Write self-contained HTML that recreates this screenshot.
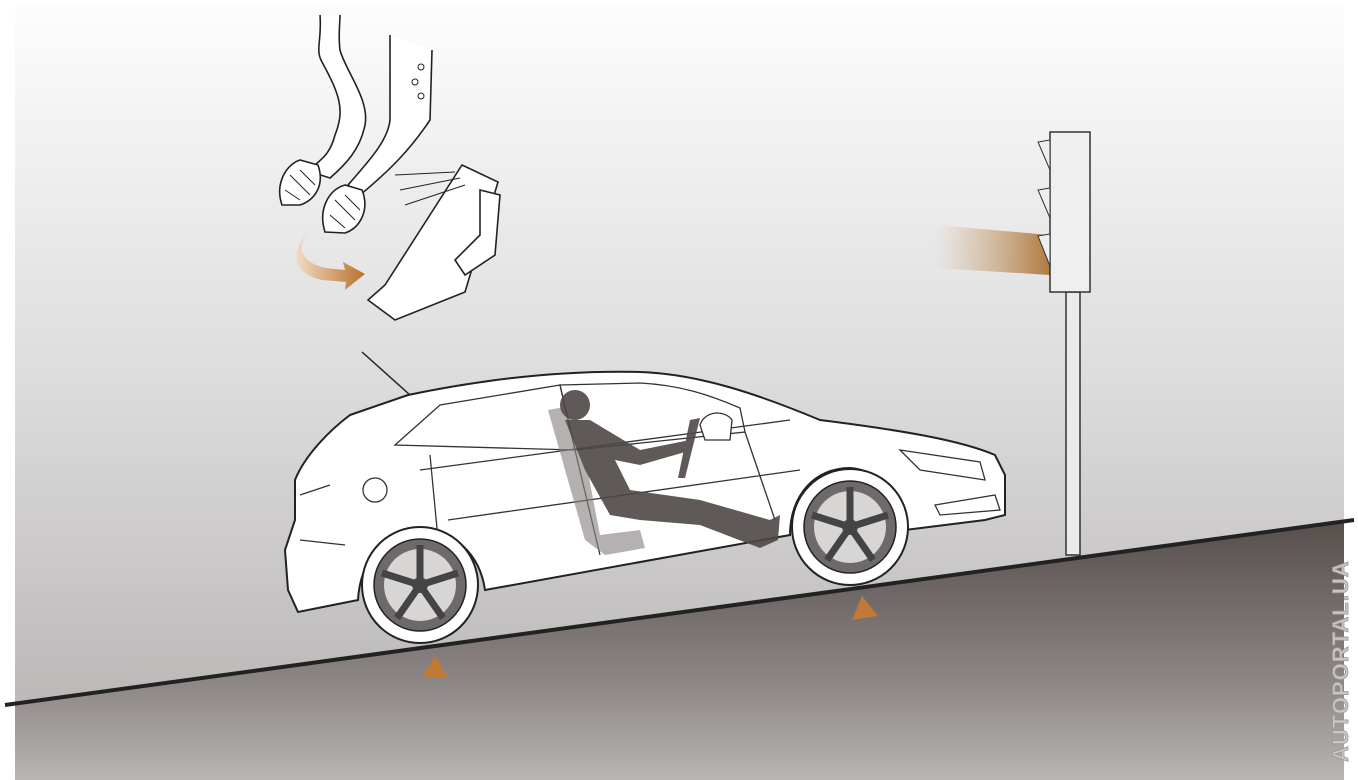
<!DOCTYPE html>
<html><head><meta charset="utf-8"><style>
html,body{margin:0;padding:0;background:#fff;width:1358px;height:780px;overflow:hidden}
svg{display:block}
</style></head><body>
<svg width="1358" height="780" viewBox="0 0 1358 780" xmlns="http://www.w3.org/2000/svg">
<defs>
<linearGradient id="bg" x1="0" y1="0" x2="0" y2="1">
<stop offset="0" stop-color="#fdfdfd"/><stop offset="0.5" stop-color="#dcdbdb"/><stop offset="1" stop-color="#b3b0af"/>
</linearGradient>
<linearGradient id="rd" x1="0" y1="0" x2="0" y2="1">
<stop offset="0" stop-color="#574f4c"/><stop offset="0.6" stop-color="#8a8483"/><stop offset="1" stop-color="#b8b5b4"/>
</linearGradient>
<linearGradient id="beam" x1="0" y1="0" x2="1" y2="0">
<stop offset="0" stop-color="#c8a27a" stop-opacity="0"/><stop offset="1" stop-color="#b07a3e"/>
</linearGradient>
<linearGradient id="arr" x1="0" y1="0" x2="1" y2="0">
<stop offset="0" stop-color="#f0dcc4"/><stop offset="1" stop-color="#b8722c"/>
</linearGradient>
</defs>
<rect x="15" y="5" width="1329" height="775" fill="url(#bg)"/>
<polygon points="15,702 1344,522 1344,780 15,780" fill="url(#rd)"/>
<line x1="5" y1="705" x2="1354" y2="520" stroke="#222" stroke-width="4"/>
<text transform="translate(1348,762) rotate(-90)" font-family="Liberation Sans, sans-serif" font-weight="bold" font-size="22" fill="#c9c6c5" stroke="#9a9695" stroke-width="0.8" letter-spacing="1">AUTOPORTAL.UA</text>

<!-- traffic light -->
<polygon points="935,225 1050,235 1050,275 935,268" fill="url(#beam)"/>
<rect x="1066" y="292" width="14" height="263" fill="#ecebeb" stroke="#333" stroke-width="1.5"/>
<rect x="1050" y="132" width="40" height="160" fill="#f0efef" stroke="#333" stroke-width="1.5"/>
<polygon points="1050,140 1038,142 1050,170" fill="#eee" stroke="#333"/>
<polygon points="1050,188 1038,190 1050,218" fill="#eee" stroke="#333"/>
<polygon points="1050,234 1038,236 1050,266" fill="#eee" stroke="#333"/>

<!-- pedals -->
<g fill="#fff" stroke="#222" stroke-width="1.6">
<path d="M320,15 C322,40 315,50 322,62 C340,95 345,110 335,135 C330,155 320,160 315,165 L305,170 L330,178 C345,165 360,150 365,125 C370,100 345,70 340,50 C338,35 340,25 340,15"/>
<path d="M390,35 L390,120 C388,140 370,160 348,185 L360,195 C390,170 410,150 430,120 L432,50"/>
<path d="M300,160 C285,165 275,185 282,205 L300,205 C315,200 325,185 318,165 Z"/>
<path d="M345,185 C328,190 318,210 325,232 L345,233 C360,228 370,210 362,190 Z"/>
<path d="M462,165 L498,182 L465,292 L395,320 L368,300 L385,285 Z"/>
<path d="M480,190 L500,195 L495,255 L465,275 L455,260 L480,235 Z"/>
</g>
<g fill="none" stroke="#222" stroke-width="1">
<circle cx="421" cy="67" r="3"/><circle cx="415" cy="82" r="3"/><circle cx="421" cy="96" r="3"/>
<path d="M395,175 L455,172 M400,190 L460,178 M405,205 L465,185"/>
<path d="M290,175 L310,195 M300,170 L315,185 M285,190 L300,200 M335,200 L355,220 M345,195 L360,210 M330,215 L345,228"/>
</g>
<path d="M310,232 C295,245 300,262 325,268 L345,270 L343,262 L365,274 L345,290 L346,282 L322,280 C292,274 288,250 310,232 Z" fill="url(#arr)"/>

<!-- car -->
<line x1="362" y1="352" x2="410" y2="395" stroke="#222" stroke-width="1.5"/>
<path d="M350,415 L408,395 C480,380 560,370 640,372 C700,374 760,395 820,420 C900,430 960,440 995,455 L1005,475 L1005,515 L985,520 L905,530 C900,495 880,470 850,468 C815,468 790,495 790,535 L485,590 C480,555 455,530 420,530 C385,530 360,560 358,600 L298,612 L288,590 L285,550 L295,520 L295,480 C305,455 330,430 350,415 Z" fill="#fff" stroke="#222" stroke-width="2"/>
<g fill="none" stroke="#333" stroke-width="1.3">
<path d="M395,445 L440,405 L560,385 L575,450 Z"/>
<path d="M575,450 L560,385 L640,383 C680,385 710,395 740,408 L745,432 Z"/>
<path d="M430,455 L440,560 M575,450 L600,555 M745,432 L775,520"/>
<path d="M300,495 L330,485 M300,540 L345,545 M420,470 L790,420 M448,520 L800,470"/>
<path d="M900,450 L980,462 L985,480 L920,470 Z"/>
<circle cx="375" cy="490" r="12"/>
<path d="M935,505 L995,495 L1000,510 L940,515 Z"/>
</g>
<!-- driver -->
<g fill="#4e4846" opacity="0.9">
<path d="M548,410 L575,405 L600,535 L640,530 L645,548 L605,555 L585,540 Z" fill="#8a8583" opacity="0.7"/>
<circle cx="575" cy="405" r="15"/>
<path d="M565,420 L590,420 L640,450 L690,440 L692,450 L640,465 L615,460 L630,490 L700,500 L770,520 L780,515 L778,540 L760,548 L700,525 L640,520 L610,515 L585,470 Z"/>
<path d="M690,420 L700,418 L685,478 L678,478 Z"/>
</g>
<path d="M700,425 C705,410 725,410 732,420 L730,440 L705,440 Z" fill="#fff" stroke="#333" stroke-width="1.3"/>
<!-- wheels -->
<g>
<circle cx="420" cy="585" r="58" fill="#fff" stroke="#222" stroke-width="2"/>
<circle cx="420" cy="585" r="46" fill="#6e6a69" stroke="#222" stroke-width="1.5"/>
<circle cx="420" cy="585" r="36" fill="#d8d6d5"/>
<circle cx="420" cy="585" r="8" fill="#555"/>
<circle cx="850" cy="527" r="58" fill="#fff" stroke="#222" stroke-width="2"/>
<circle cx="850" cy="527" r="46" fill="#6e6a69" stroke="#222" stroke-width="1.5"/>
<circle cx="850" cy="527" r="36" fill="#d8d6d5"/>
<circle cx="850" cy="527" r="8" fill="#555"/>
</g>
<g stroke="#444" stroke-width="7">
<path d="M420,585 L420,545 M420,585 L458,573 M420,585 L443,618 M420,585 L397,618 M420,585 L382,573"/>
<path d="M850,527 L850,487 M850,527 L888,515 M850,527 L873,560 M850,527 L827,560 M850,527 L812,515"/>
</g>
<polygon points="422,678 448,678 435,656" fill="#c07a36"/>
<polygon points="852,620 878,616 862,596" fill="#c07a36"/>
</svg>
</body></html>
